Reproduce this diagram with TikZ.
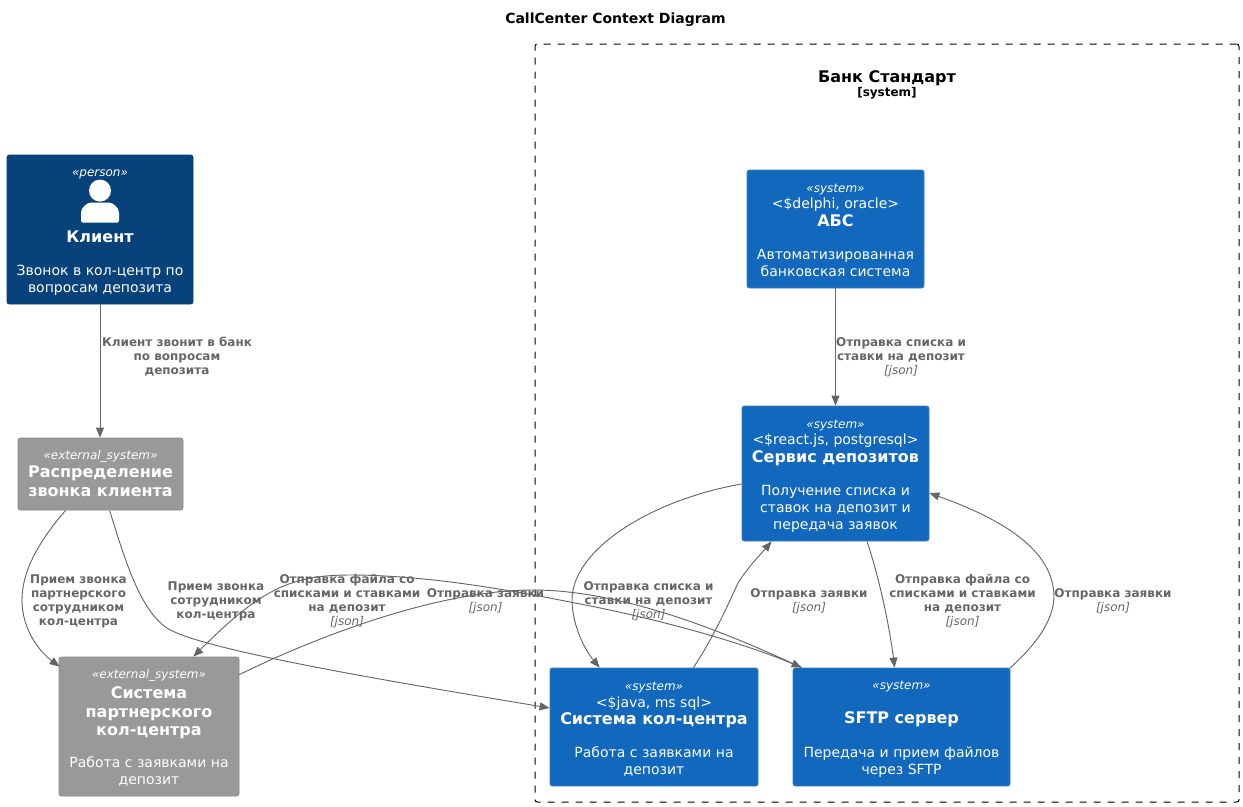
\documentclass[tikz,border=0pt]{standalone}
\usepackage{fontspec}
\setmainfont{DejaVu Sans}
\usetikzlibrary{arrows.meta,calc}

\definecolor{persbg}{HTML}{08427B}
\definecolor{persln}{HTML}{073B6F}
\definecolor{sysbg}{HTML}{1168BD}
\definecolor{sysln}{HTML}{3C7FC0}
\definecolor{extbg}{HTML}{999999}
\definecolor{extln}{HTML}{8A8A8A}
\definecolor{relcol}{HTML}{666666}

\newcommand{\stereo}[1]{{\fontsize{9}{10.5}\selectfont\itshape «#1»}}
\newcommand{\nm}[1]{{\fontsize{12}{14}\selectfont\bfseries #1}}
\newcommand{\js}{{\mdseries\itshape [json]}}
\newcommand{\nudge}[1]{\rule{0pt}{#1}}

\tikzset{
    boxsize/.style 2 args={minimum width=#1*0.75pt,minimum height=#2*0.75pt},
    cbox/.style={draw,rounded corners=1.8pt,line width=0.6pt,text=white,align=center,inner sep=0pt,
        font=\fontsize{10.5}{12.6}\selectfont},
    persbox/.style={cbox,fill=persbg,draw=persln},
    sysbox/.style={cbox,fill=sysbg,draw=sysln},
    extbox/.style={cbox,fill=extbg,draw=extln},
    rel/.style={draw=relcol,line width=0.7pt,-{Triangle[length=7.5pt,width=6pt]}},
    rellabel/.style={text=relcol,align=center,inner sep=0pt,
        font=\fontsize{9}{10.5}\selectfont\bfseries},
}

\begin{document}
\begin{tikzpicture}[x=0.75pt,y=-0.75pt]
    \useasboundingbox (0,0) rectangle (1243,807);

    \node[font=\fontsize{10.5}{12}\selectfont\bfseries,inner sep=0pt] (title) at (615.5,20) {CallCenter Context Diagram};

    % Bank boundary
    \node[draw,dash pattern=on 5.25pt off 5.25pt,line width=0.75pt,rounded corners=1.8pt,inner sep=0pt,boxsize={704}{758}] (bank) at (887,423) {};
    \node[font=\fontsize{12}{14}\selectfont\bfseries,inner sep=0pt] (banktitle) at (887,78) {Банк Стандарт};
    \node[font=\fontsize{9}{10}\selectfont\bfseries,inner sep=0pt] (banktag) at (887,93) {[system]};

    % Boxes
    \node[persbox,boxsize={186}{149}] (client) at (100,229.5) {\nudge{10pt}\stereo{person}\\[36.75pt] \nm{Клиент}\\[12.25pt] Звонок в кол-центр по\\ вопросам депозита};
    \fill[white] ($(client.north)+(0,36)$) circle (11);
    \fill[white,rounded corners=1.5pt] ($(client.north)+(-19,68)$) -- ($(client.north)+(-19,60)$)
        .. controls ($(client.north)+(-19,53)$) and ($(client.north)+(-13,48)$) .. ($(client.north)+(-7,48)$)
        -- ($(client.north)+(7,48)$)
        .. controls ($(client.north)+(13,48)$) and ($(client.north)+(19,53)$) .. ($(client.north)+(19,60)$)
        -- ($(client.north)+(19,68)$) -- cycle;

    \node[extbox,boxsize={165}{72}] (router) at (100.5,474) {\stereo{external\_system}\\[0.5pt] \nm{Распределение}\\[1.5pt] \nm{звонка клиента}\rule[-1pt]{0pt}{1pt}};
    \node[extbox,boxsize={180}{139}] (partner) at (149,726.5) {\nudge{9.3pt}\stereo{external\_system}\\[2pt] \nm{Система}\\[1.5pt] \nm{партнерского}\\[1.5pt] \nm{кол-центра}\\[11.5pt] Работа с заявками на\\ депозит};
    \node[sysbox,boxsize={177}{118}] (abs) at (835.5,229) {\nudge{8pt}\stereo{system}\\ <\$delphi, oracle>\\[0.75pt] \nm{АБС}\\[12pt] Автоматизированная\\ банковская система};
    \node[sysbox,boxsize={187}{135}] (deposit) at (835.5,473.5) {\nudge{9.84pt}\stereo{system}\\ <\$react.js, postgresql>\\[0.5pt] \nm{Сервис депозитов}\\[12.25pt] Получение списка и\\ ставок на депозит и\\ передача заявок};
    \node[sysbox,boxsize={208}{118}] (callcenter) at (654,727) {\nudge{9.84pt}\stereo{system}\\ <\$java, ms sql>\\ \nm{Система кол-центра}\\[12.75pt] Работа с заявками на\\ депозит};
    \node[sysbox,boxsize={217}{118}] (sftp) at (901.5,727) {\nudge{9.84pt}\stereo{system}\\[13pt] \nm{SFTP сервер}\\[12.75pt] Передача и прием файлов\\ через SFTP};

    % Relations
    \draw[rel] (client.south) -- (client.south |- router.north);
    \draw[rel] (abs.south) -- (deposit.north);
    \draw[rel] ($(router.south west)+(48,0)$) .. controls (40,540) and (22,570) .. (22,600)
        .. controls (22,630) and (40,652) .. ($(partner.north west)+(1,10)$);
    \draw[rel] ($(router.south west)+(92,0)$) .. controls (125,560) and (140,610) .. (167,628)
        .. controls (200,650) and (400,683) .. ($(callcenter.west)+(0,-19)$);
    \draw[rel] ($(partner.north east)+(0,18)$) .. controls (320,635) and (440,590) .. (533,590)
        .. controls (620,590) and (720,630) .. ($(sftp.north west)+(9,0)$);
    \draw[rel] ($(sftp.north west)+(9,0)$) .. controls (740,640) and (640,615) .. (570,602)
        .. controls (500,588) and (420,575) .. (350,575)
        .. controls (290,575) and (260,590) .. ($(partner.north east)+(-46,0)$);
    \draw[rel] ($(deposit.west)+(0,10.5)$) .. controls (650,500) and (572,550) .. (572,600)
        .. controls (572,625) and (585,650) .. ($(callcenter.north west)+(50,0)$);
    \draw[rel] ($(callcenter.north east)+(-65,0)$) .. controls (712,640) and (728,605) .. (738,583)
        .. controls (748,567) and (760,555) .. ($(deposit.south west)+(30,0)$);
    \draw[rel] ($(deposit.south)+(31.5,0)$) .. controls (880,580) and (890,630) .. ($(sftp.north west)+(102,0)$);
    \draw[rel] ($(sftp.north east)+(-1,1)$) .. controls (1030,650) and (1053,625) .. (1054,597)
        .. controls (1054,545) and (990,515) .. ($(deposit.east)+(0,19.5)$);

    % Labels
    \node[rellabel] (l1) at (177,357) {Клиент звонит в банк\\ по вопросам\\ депозита};
    \node[rellabel] (l2) at (901,357) {Отправка списка и\\ ставки на депозит\\ \js};
    \node[rellabel] (l3) at (78.5,601) {Прием звонка\\ партнерского\\ сотрудником\\ кол-центра};
    \node[rellabel] (l4) at (216,601) {Прием звонка\\ сотрудником\\ кол-центра};
    \node[rellabel] (l5) at (347,601) {Отправка файла со\\ списками и ставками\\ на депозит\\ \js};
    \node[rellabel] (l6) at (485.5,601) {Отправка заявки\\ \js};
    \node[rellabel] (l7) at (648.5,601) {Отправка списка и\\ ставки на депозит\\ \js};
    \node[rellabel] (l8) at (809,601) {Отправка заявки\\ \js};
    \node[rellabel] (l9) at (962.5,601) {Отправка файла со\\ списками и ставками\\ на депозит\\ \js};
    \node[rellabel] (l10) at (1113,601) {Отправка заявки\\ \js};
\end{tikzpicture}
\end{document}
